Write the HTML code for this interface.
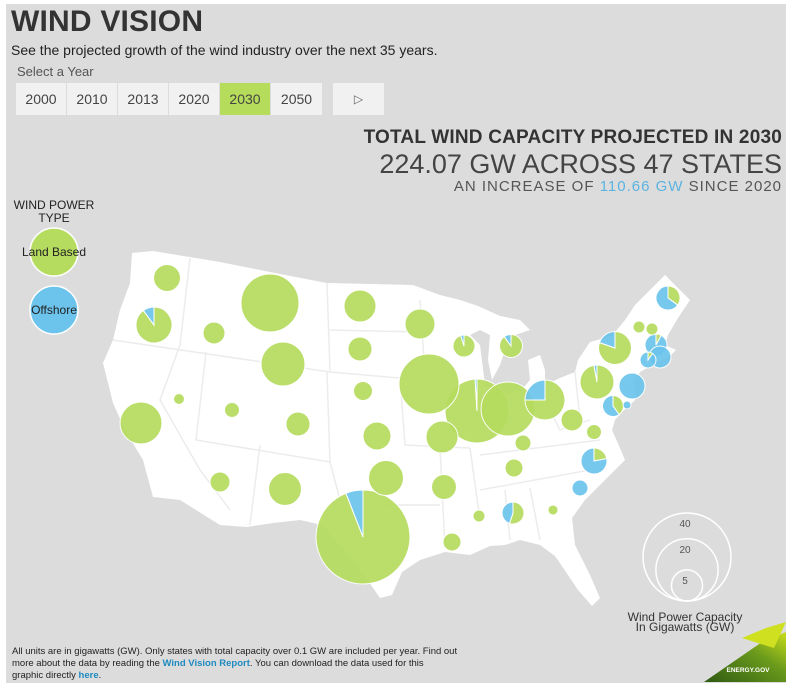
<!DOCTYPE html>
<html><head><meta charset="utf-8"><style>
body{margin:0;background:#fff;font-family:"Liberation Sans",sans-serif;}
#wrap{position:relative;width:800px;height:695px;overflow:hidden;background:#fff;}
#panel{position:absolute;left:6px;top:4px;width:780px;height:679px;background:#dcdcdc;}
.t{position:absolute;white-space:nowrap;}
.btn{position:absolute;top:83px;height:32px;width:50px;background:#f1f1f1;color:#444;font-size:14px;line-height:32px;text-align:center;}
</style></head><body>
<div id="wrap">
<div id="panel"></div>
<div class="t" style="left:11px;top:5px;font-size:30px;font-weight:bold;color:#333;letter-spacing:0.2px;">WIND VISION</div>
<div class="t" style="left:11px;top:42px;font-size:14px;color:#222;">See the projected growth of the wind industry over the next 35 years.</div>
<div class="t" style="left:17px;top:64px;font-size:13px;color:#555;">Select a Year</div>
<div class="btn" style="left:16px;">2000</div>
<div class="btn" style="left:67px;">2010</div>
<div class="btn" style="left:118px;">2013</div>
<div class="btn" style="left:169px;">2020</div>
<div class="btn" style="left:220px;background:#b5dc5a;">2030</div>
<div class="btn" style="left:271px;width:51px;">2050</div>
<div class="btn" style="left:333px;width:51px;font-size:12px;color:#666;">&#9655;</div>
<div class="t" style="right:18px;top:127px;font-size:19px;font-weight:bold;color:#333;letter-spacing:0.2px;">TOTAL WIND CAPACITY PROJECTED IN 2030</div>
<div class="t" style="right:18px;top:149px;font-size:27px;color:#444;">224.07 GW ACROSS 47 STATES</div>
<div class="t" style="right:18px;top:178px;font-size:15px;color:#555;letter-spacing:1px;">AN INCREASE OF <span style="color:#5ab3e0">110.66 GW</span> SINCE 2020</div>
<div class="t" style="left:12px;top:199px;width:84px;text-align:center;font-size:12px;color:#222;line-height:13px;">WIND POWER<br>TYPE</div>
<svg id="map" width="800" height="695" style="position:absolute;left:0;top:0">
<defs><linearGradient id="eg" x1="0" y1="1" x2="1" y2="0"><stop offset="0" stop-color="#2f5a12"/><stop offset="0.6" stop-color="#6a9a1c"/><stop offset="1" stop-color="#c8dc1a"/></linearGradient></defs>
<polygon fill="#fff" points="132,253 153,251 220,262 280,274 327,283 413,285 440,295 460,300 478,306 500,316 520,320 530,330 515,335 505,350 500,365 492,380 488,360 490,335 480,330 470,335 480,345 485,385 500,395 520,392 530,380 528,360 540,355 545,370 545,385 560,378 575,372 578,360 590,342 612,336 625,320 635,305 650,290 665,275 675,285 690,300 678,318 668,335 665,345 676,350 670,356 652,365 640,372 635,380 635,400 622,412 615,420 612,430 620,448 625,460 610,475 600,485 585,500 572,518 575,545 590,575 600,598 592,606 578,590 566,572 555,556 540,545 520,540 505,545 490,546 470,555 445,552 420,560 402,572 392,595 380,598 362,572 340,545 322,525 300,520 273,523 247,527 220,525 180,500 153,497 143,460 125,430 113,403 103,363 113,340 120,310 130,283"/>
<g id="borders" stroke="#ececec" stroke-width="1.5" fill="none">
<path d="M190,258 L180,345 M113,340 L330,372 M180,345 L160,400 L200,470 L230,510 M206,352 L196,440 L330,462 L327,372 M330,372 L400,378 L430,378 M327,283 L330,372 M330,330 L420,332 M400,378 L405,445 L470,448 M260,445 L250,525 M330,462 L340,500 L380,505 L440,505 M420,300 L425,375 M440,448 L445,548 M470,448 L480,520 M480,455 L600,440 M480,490 L590,470 M505,490 L510,540 M530,488 L540,540 M545,400 L560,430 L590,420 M575,372 L580,420"/>
</g>
<g id="bubbles"></g>
<g>
<circle cx="54" cy="252" r="24" fill="#b6dc5f" stroke="#fff" stroke-width="1.5"/>
<text x="54" y="256" text-anchor="middle" font-size="12" fill="#222" font-family="Liberation Sans">Land Based</text>
<circle cx="54" cy="310" r="24" fill="#6cc4ec" stroke="#fff" stroke-width="1.5"/>
<text x="54" y="314" text-anchor="middle" font-size="12" fill="#222" font-family="Liberation Sans">Offshore</text>
</g>
<g id="sizeLegend"></g>
<text x="685" y="621" text-anchor="middle" font-size="12" fill="#333" font-family="Liberation Sans">Wind Power Capacity</text>
<text x="685" y="631" text-anchor="middle" font-size="12" fill="#333" font-family="Liberation Sans">In Gigawatts (GW)</text>
<g>
<polygon points="704,682 786,682 786,632 762,642" fill="url(#eg)"/>
<polygon points="742,638 766,628 786,622 774,648" fill="#cfe020"/>
<text x="748" y="672" text-anchor="middle" font-size="6.5" font-weight="bold" fill="#fff" font-family="Liberation Sans">ENERGY.GOV</text>
</g>
</svg>
<div class="t" style="left:12px;top:646px;font-size:9.5px;color:#222;line-height:12px;">All units are in gigawatts (GW). Only states with total capacity over 0.1 GW are included per year. Find out<br>more about the data by reading the <b style="color:#1f8ac0">Wind Vision Report</b>. You can download the data used for this<br>graphic directly <b style="color:#1f8ac0">here</b>.</div>
</div>
<script>
const states=["WA","OR","ID","MT","WY","ND","SD","NE","MN","IA","CA","NV","UT","CO","KS","AZ","NM","OK","TX","MO","WI","MI","IL","IN","OH","KY","TN","AR","LA","MS","AL","GA","SC","NC","VA","WV","PA","NY","NJ","MD","DE","ME","VT","NH","MA","RI","CT"];
const landGW=[3.76,6.02,2.5,17.4,10,5.3,3.0,1.86,4.65,18.6,9.1,0.62,1.16,3.0,4.05,2.06,5.6,6.3,42.9,5.3,2.38,2.46,20.9,15.0,6.2,1.32,1.67,3.2,1.67,0.74,1.38,0.52,0,0.77,1.16,2.5,5.8,4.5,0,0.91,0,1.05,0.74,0.74,0.2,0,0.13];
const offshoreGW=[0,0.67,0,0,0,0,0,0,0,0,0,0,0,0,0,0,0,0,2.7,0,0.12,0.27,0.2,0,2.06,0,0,0,0,0,1.12,0,1.32,2.73,0,0,0.17,1.1,3.5,1.36,0.33,1.95,0,0,2.3,2.5,1.19];
const legendValues=[40,20,5];
// map anchor location of each state (layout, not data)
const anchor={WA:[167,278],OR:[154,325],ID:[214,333],MT:[270,303],WY:[283,364],ND:[360,306],SD:[360,349],NE:[363,391],MN:[420,324],IA:[429,384],CA:[141,423],NV:[179,399],UT:[232,410],CO:[298,424],KS:[377,436],AZ:[220,482],NM:[285,489],OK:[386,478],TX:[363,537],MO:[442,437],WI:[464,346],MI:[511,346],IL:[477,411],IN:[508,409],OH:[545,400],KY:[523,443],TN:[514,468],AR:[444,487],LA:[452,542],MS:[479,516],AL:[513,513],GA:[553,510],SC:[580,488],NC:[594,461],VA:[594,432],WV:[572,420],PA:[597,382],NY:[615,348],NJ:[632,386],MD:[613,406],DE:[627,405],ME:[668,298],VT:[639,327],NH:[652,329],MA:[656,345],RI:[660,357],CT:[648,360]};
const NS="http://www.w3.org/2000/svg";
function rScale(v){return 44*Math.sqrt(v/40);}
function arc(cx,cy,r,a0,a1){
  const x0=cx+r*Math.sin(a0),y0=cy-r*Math.cos(a0),x1=cx+r*Math.sin(a1),y1=cy-r*Math.cos(a1);
  const large=Math.abs(a1-a0)>Math.PI?1:0, sweep=a1>a0?1:0;
  return `M${cx},${cy} L${x0},${y0} A${r},${r} 0 ${large} ${sweep} ${x1},${y1} Z`;
}
const g=document.getElementById('bubbles');
const order=states.map((s,i)=>i).sort((a,b)=>(landGW[b]+offshoreGW[b])-(landGW[a]+offshoreGW[a]));
order.forEach(i=>{
  const s=states[i],tot=landGW[i]+offshoreGW[i],[cx,cy]=anchor[s],r=rScale(tot);
  const grp=document.createElementNS(NS,'g');
  
  
  grp.setAttribute('opacity','0.92');
  const f=offshoreGW[i]/tot;
  if(f<=0||f>=1){
    const c=document.createElementNS(NS,'circle');
    
    
    c.setAttribute('cx',cx);c.setAttribute('cy',cy);c.setAttribute('r',r);
    c.setAttribute('fill',f>=1?'#6cc4ec':'#b6dc5f');c.setAttribute('stroke','#fff');c.setAttribute('stroke-width','1');
    grp.appendChild(c);
  } else {
    const a=f*2*Math.PI;
    const p1=document.createElementNS(NS,'path');
    
    
    p1.setAttribute('d',arc(cx,cy,r,0,2*Math.PI-a));p1.setAttribute('fill','#b6dc5f');p1.setAttribute('stroke','#fff');p1.setAttribute('stroke-width','1');
    const p2=document.createElementNS(NS,'path');
    
    
    p2.setAttribute('d',arc(cx,cy,r,0,-a));p2.setAttribute('fill','#6cc4ec');p2.setAttribute('stroke','#fff');p2.setAttribute('stroke-width','1');
    grp.appendChild(p1);grp.appendChild(p2);
  }
  g.appendChild(grp);
});
const sl=document.getElementById('sizeLegend');
const baseY=601,lx=687;
legendValues.forEach(v=>{
  const r=rScale(v);
  const c=document.createElementNS(NS,'circle');
  
  
  c.setAttribute('cx',lx);c.setAttribute('cy',baseY-r);c.setAttribute('r',r);
  c.setAttribute('fill','none');c.setAttribute('stroke','#fff');c.setAttribute('stroke-width','1.5');
  sl.appendChild(c);
  const t=document.createElementNS(NS,'text');
  
  
  t.setAttribute('x',lx-2);t.setAttribute('y',baseY-2*r+14);t.setAttribute('text-anchor','middle');
  t.setAttribute('font-size','10');t.setAttribute('fill','#555');t.setAttribute('font-family','Liberation Sans');
  t.textContent=v;sl.appendChild(t);
});
</script>
</body></html>
